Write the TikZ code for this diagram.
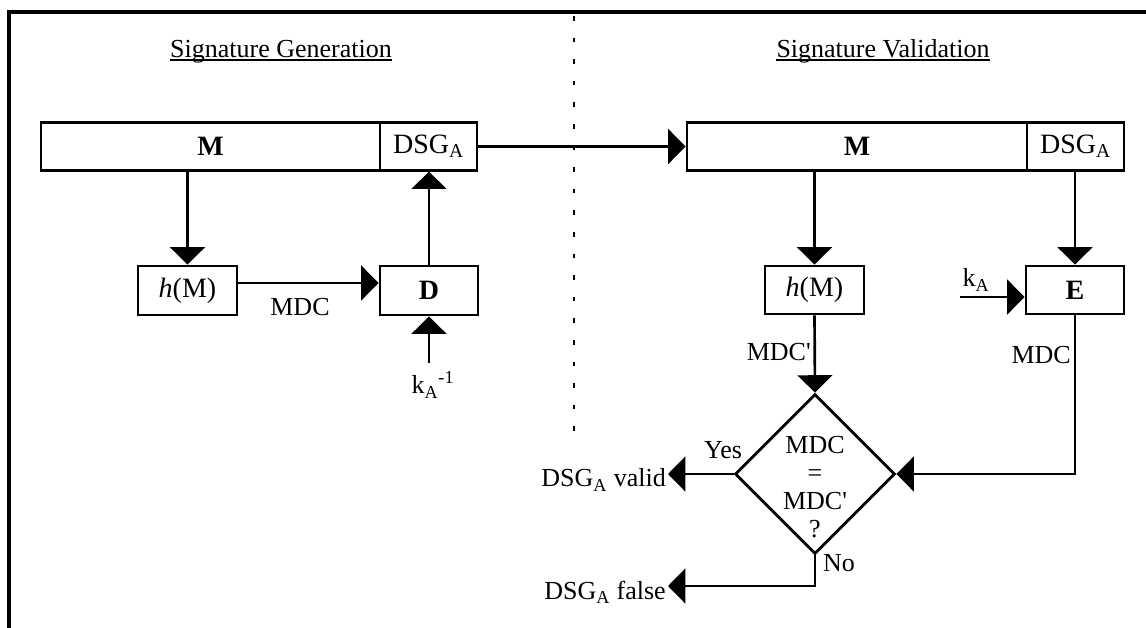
\documentclass[tikz,border=0pt]{standalone}
\usepackage{fontspec}
\setmainfont{Liberation Serif}
\usetikzlibrary{arrows.meta,shapes.geometric}
\begin{document}
\begin{tikzpicture}[x=0.75pt,y=-0.75pt,
  box/.style={draw,line width=2.2pt,inner sep=0pt,minimum height=35.5pt,font=\fontsize{21}{24}\selectfont},
  lbl/.style={inner sep=0pt,font=\fontsize{19.5}{21}\selectfont},
  flow/.style={line width=2pt,-{Triangle[length=13pt,width=26pt]}},
  plain/.style={line width=2pt}]
\useasboundingbox (0,0) rectangle (1146,628);
\draw[line width=2.3pt] (1146,12) -- (9,12) -- (9,628);
% titles
\node[lbl,anchor=base] (tg) at (281,57) {Signature Generation};
\draw[line width=1.3pt] ([yshift=-2.2pt]tg.base west) -- ([yshift=-2.2pt]tg.base east);
\node[lbl,anchor=base] (tv) at (883,57) {Signature Validation};
\draw[line width=1.3pt] ([yshift=-2.2pt]tv.base west) -- ([yshift=-2.2pt]tv.base east);
% divider
\draw[line width=1.5pt,dash pattern=on 3.5pt off 12.7pt] (574,16) -- (574,432);
% generation
\node[box,minimum width=254.25pt] (mL) at (210.5,146.5) {\textbf{M}};
\node[box,minimum width=72.75pt] (dsgL) at (428.5,146.5) {DSG\textsubscript{A}};
\node[box,minimum width=74.25pt,minimum height=36.75pt] (hL) at (187.5,290.5) {\textit{h}(M)};
\node[box,minimum width=73.5pt,minimum height=36.75pt] (D) at (429,290.5) {\textbf{D}};
\node[lbl] (mdcL) at (300,307) {MDC};
\node[lbl] (kinv) at (433,385) {k\textsubscript{A}\textsuperscript{-1}};
\coordinate (kinvs) at (429,363);
\draw[flow] (hL.north |- mL.south) -- (hL.north);
\draw[flow] (hL.east |- 0,283) -- (D.west |- 0,283);
\draw[flow] (D.north) -- (D.north |- dsgL.south);
\draw[flow] (kinvs) -- (D.south);
% validation
\node[box,minimum width=255pt] (mR) at (857,146.5) {\textbf{M}};
\node[box,minimum width=72.75pt] (dsgR) at (1075.5,146.5) {DSG\textsubscript{A}};
\node[box,minimum width=74.25pt,minimum height=36pt] (hR) at (814.5,290) {\textit{h}(M)};
\node[box,minimum width=73.5pt,minimum height=36pt] (E) at (1075,290) {\textbf{E}};
\node[lbl] (kA) at (976,280) {k\textsubscript{A}};
\coordinate (kAs) at (960,297);
\node[lbl,anchor=east] (mdcp) at (811,352) {MDC\textquotesingle};
\node[lbl,anchor=east] (mdcE) at (1071,355) {MDC};
\node[draw,shape=diamond,line width=2.2pt,minimum width=120pt,minimum height=120pt,inner sep=0pt] (dec) at (815,474) {};
\node[lbl,align=center,font=\fontsize{19.5}{21}\selectfont] (dectext) at (815,487) {MDC\\=\\MDC\textquotesingle\\?};
\node[lbl] (yes) at (723,450) {Yes};
\node[lbl] (no) at (839,563) {No};
\node[lbl,anchor=east] (valid) at (666,480) {DSG\textsubscript{A} valid};
\node[lbl,anchor=east] (false) at (666,592) {DSG\textsubscript{A} false};
\coordinate (validp) at (668,474);
\coordinate (falsep) at (668,586);
\draw[flow] (dsgL.east) -- (mR.west);
\draw[flow] (hR.north |- mR.south) -- (hR.north);
\draw[flow] (E.north |- dsgR.south) -- (E.north);
\draw[flow] (kAs) -- (E.west |- kAs);
\draw[flow] (hR.south) -- (dec.north);
\draw[flow] (E.south) |- (dec.east);
\draw[flow] (dec.west) -- (validp);
\draw[flow] (dec.south) |- (falsep);
\end{tikzpicture}
\end{document}
